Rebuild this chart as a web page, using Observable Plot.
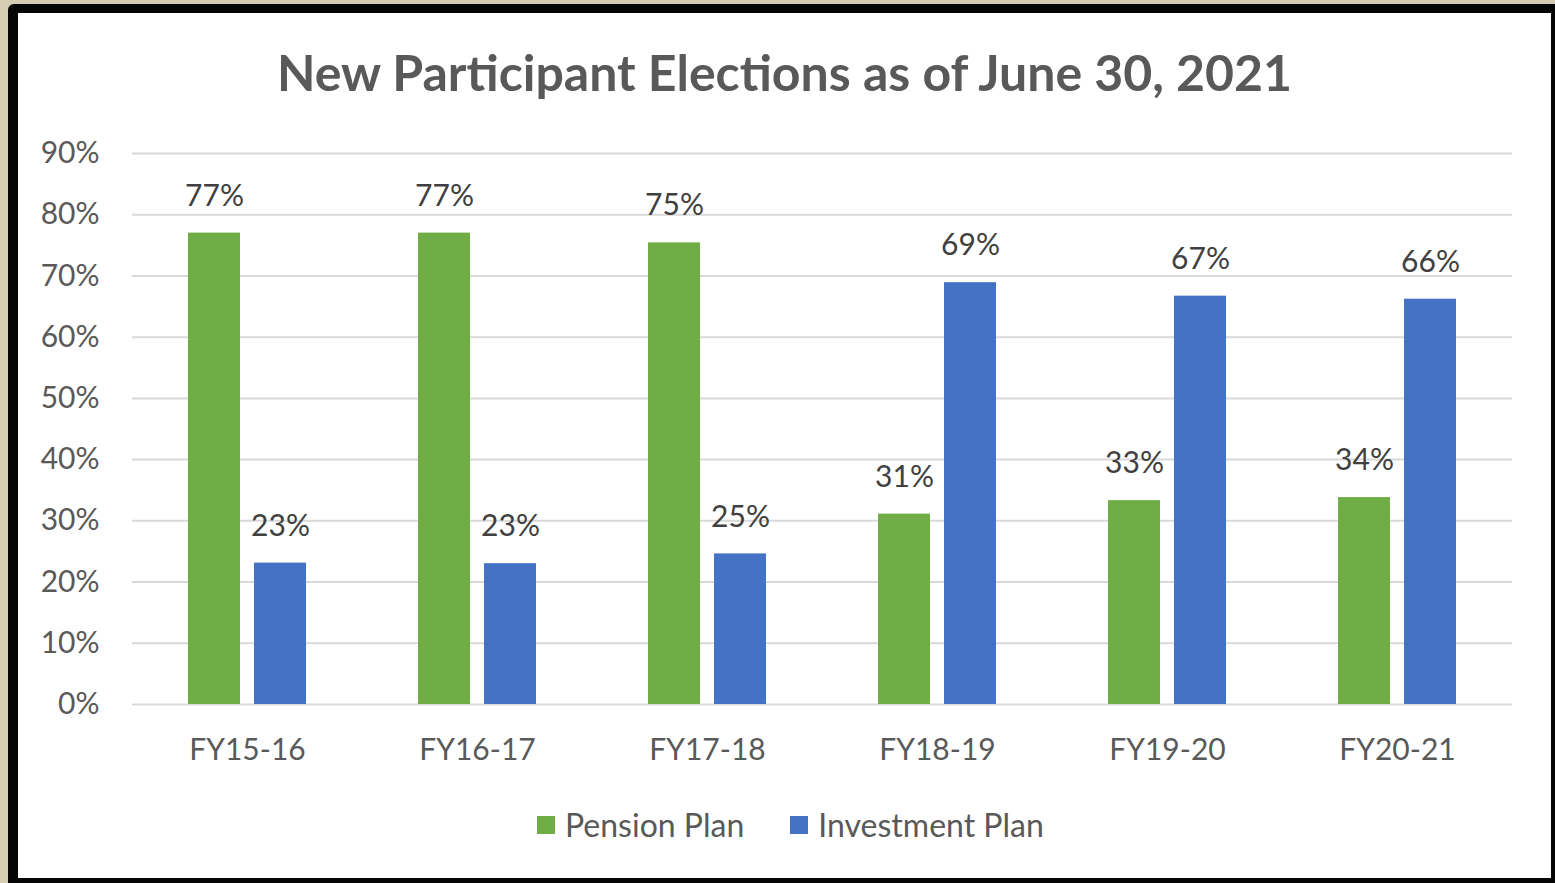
<!DOCTYPE html>
<html>
<head>
<meta charset="utf-8">
<script src="https://cdn.jsdelivr.net/npm/d3@7"></script>
<script src="https://cdn.jsdelivr.net/npm/@observablehq/plot@0.6"></script>
<style>
  html, body { margin: 0; padding: 0; width: 1555px; height: 883px; overflow: hidden; background: #d4cdb3; }
  #frame { position: absolute; left: 8px; top: 4px; width: 1533px; height: 865px;
           border-left: 10px solid #050505; border-top: 9px solid #050505; border-right: 4px solid #050505; border-bottom: 5px solid #050505;
           border-top-left-radius: 6px; background: #fff; font-family: Lato, "Open Sans", sans-serif; }
  #title { position: absolute; left: 0; top: 32px; width: 1533px; text-align: center; font-size: 50px; font-weight: 700; color: #595959; line-height: 54px; }
  #chart { position: absolute; left: 0; top: 117px; }
  #legend { position: absolute; left: 519px; top: 794px; display: flex; align-items: center; font-size: 32px; color: #595959; line-height: 36px; }
  .item { display: flex; align-items: center; margin-right: 46px; }
  .sw { width: 18px; height: 18px; margin-right: 10px; }
</style>
</head>
<body>
<div id="frame">
  <div id="title">New Participant Elections as of June 30, 2021</div>
  <div id="chart"></div>
  <div id="legend"></div>
</div>
<script>
const years = ["FY15-16", "FY16-17", "FY17-18", "FY18-19", "FY19-20", "FY20-21"];
const plans = ["Pension Plan", "Investment Plan"];
const pension = [77.0, 77.0, 75.4, 31.1, 33.3, 33.8];
const investment = [23.1, 23.0, 24.6, 68.9, 66.7, 66.2];
const yTicks = [0, 10, 20, 30, 40, 50, 60, 70, 80, 90];
const colors = ["#70ad47", "#4472c4"];

const data = [];
years.forEach((y, i) => {
  data.push({year: y, plan: plans[0], value: pension[i]});
  data.push({year: y, plan: plans[1], value: investment[i]});
});

const chart = Plot.plot({
  width: 1533,
  height: 650,
  marginLeft: 113,
  marginRight: 39,
  marginTop: 23,
  marginBottom: 76,
  style: { fontFamily: 'Lato, "Open Sans", sans-serif', color: "#595959", background: "transparent" },
  fx: { domain: years, padding: 0, label: null },
  x: { domain: plans, paddingInner: 0.212, paddingOuter: 0.848, axis: null },
  y: { domain: [0, 90], label: null },
  color: { domain: plans, range: colors },
  marks: [
    Plot.gridY(yTicks, { stroke: "#d9d9d9", strokeOpacity: 1, strokeWidth: 2 }),
    Plot.barY(data, { fx: "year", x: "plan", y: "value", fill: "plan" }),
    Plot.text(data, { fx: "year", x: "plan", y: "value", text: d => Math.round(d.value) + "%", dy: -37, fontSize: 30, fill: "#404040" }),
    Plot.axisY(yTicks, { tickSize: 0, tickPadding: 33, fontSize: 30, tickFormat: d => d + "%", label: null }),
    Plot.axisFx({ anchor: "bottom", tickSize: 0, tickPadding: 34, fontSize: 30, label: null })
  ]
});
document.getElementById("chart").appendChild(chart);

const legend = document.getElementById("legend");
plans.forEach((p, i) => {
  const item = document.createElement("div");
  item.className = "item";
  const sw = document.createElement("div");
  sw.className = "sw";
  sw.style.background = colors[i];
  const t = document.createElement("span");
  t.textContent = p;
  item.appendChild(sw);
  item.appendChild(t);
  legend.appendChild(item);
});
</script>
</body>
</html>
